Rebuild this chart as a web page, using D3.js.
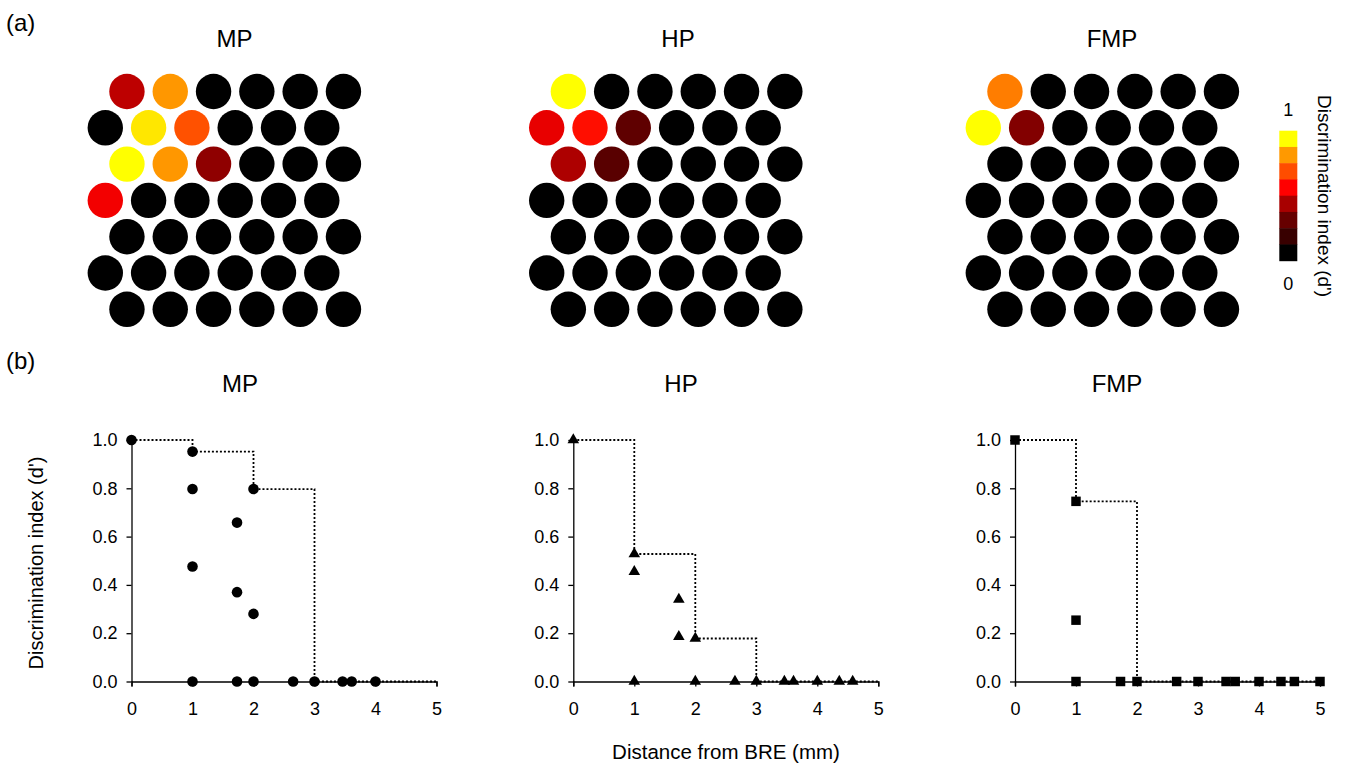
<!DOCTYPE html>
<html>
<head>
<meta charset="utf-8">
<script src="https://cdn.jsdelivr.net/npm/d3@7"></script>
<style>
  body { margin: 0; background: #fff; }
  text { font-family: "Liberation Sans", Arial, sans-serif; fill: #000; }
</style>
</head>
<body>
<div id="chart"></div>
<script>
'use strict';

// ---- data ----
const panelNames = ["MP", "HP", "FMP"];

// d' per electrode, 7 rows x 6 columns (rows 0,2,4,6 are shifted right by half a pitch)
const mpGrid = [
  [0.37, 0.797, 0, 0, 0, 0],
  [0, 0.952, 0.658, 0, 0, 0],
  [1.0, 0.797, 0.28, 0, 0, 0],
  [0.476, 0, 0, 0, 0, 0],
  [0, 0, 0, 0, 0, 0],
  [0, 0, 0, 0, 0, 0],
  [0, 0, 0, 0, 0, 0]
];
const hpGrid = [
  [1.0, 0, 0, 0, 0, 0],
  [0.455, 0.528, 0.186, 0, 0, 0],
  [0.34, 0.175, 0, 0, 0, 0],
  [0, 0, 0, 0, 0, 0],
  [0, 0, 0, 0, 0, 0],
  [0, 0, 0, 0, 0, 0],
  [0, 0, 0, 0, 0, 0]
];
const fmpGrid = [
  [0.746, 0, 0, 0, 0, 0],
  [1.0, 0.254, 0, 0, 0, 0],
  [0, 0, 0, 0, 0, 0],
  [0, 0, 0, 0, 0, 0],
  [0, 0, 0, 0, 0, 0],
  [0, 0, 0, 0, 0, 0],
  [0, 0, 0, 0, 0, 0]
];

// distance from BRE (mm) vs d'
const mpDist = [0, 1, 1, 1, 1, 1.73, 1.73, 1.73, 2, 2, 2, 2.65, 3, 3.46, 3.61, 4];
const mpDp   = [1, 0.952, 0.797, 0.476, 0, 0.658, 0.37, 0, 0.797, 0.28, 0, 0, 0, 0, 0, 0];
const hpDist = [0, 1, 1, 1, 1.73, 1.73, 2, 2, 2.65, 3, 3.46, 3.61, 4, 4.36, 4.58];
const hpDp   = [1, 0.528, 0.455, 0, 0.34, 0.186, 0.178, 0, 0, 0, 0, 0, 0, 0, 0];
const fmpDist = [0, 1, 1, 1, 1.73, 2, 2.65, 3, 3.46, 3.61, 4, 4.36, 4.58, 5];
const fmpDp   = [1, 0.746, 0.254, 0, 0, 0, 0, 0, 0, 0, 0, 0, 0, 0];

// dotted envelope (max d' per ring)
const mpStepX = [0, 1, 2, 3, 5];
const mpStepY = [1, 0.952, 0.797, 0, 0];
const hpStepX = [0, 1, 2, 3, 5];
const hpStepY = [1, 0.528, 0.178, 0, 0];
const fmpStepX = [0, 1, 2, 5];
const fmpStepY = [1, 0.746, 0, 0];

const colorbarSteps = [1, 0.8, 0.65, 0.5, 0.33, 0.2, 0.11, 0];
const xTicks = [0, 1, 2, 3, 4, 5];
const yTicks = [0, 0.2, 0.4, 0.6, 0.8, 1.0];

// ---- layout ----
const W = 1346, H = 766;
const svg = d3.select("#chart").append("svg")
  .attr("width", W).attr("height", H);

const color = d3.scaleLinear()
  .domain([0, 0.5, 1])
  .range(["#000000", "#ff0000", "#ffff00"]);

const pitch = 43.3, rowStep = 36.3, radius = 17.7;
const gridLeft = [105.3, 546.7, 983.3];
const gridTop = 91.5;
const grids = [mpGrid, hpGrid, fmpGrid];

// panel labels
svg.append("text").attr("x", 6).attr("y", 31).style("font-size", "24px").text("(a)");
svg.append("text").attr("x", 6).attr("y", 369).style("font-size", "24px").text("(b)");

// ---- (a) electrode maps ----
const topTitleX = [234.5, 678, 1112];
grids.forEach(function(grid, p) {
  const g = svg.append("g");
  const col = d3.scaleLinear().domain([0, 5]).range([gridLeft[p], gridLeft[p] + 5 * pitch]);
  const row = d3.scaleLinear().domain([0, 6]).range([gridTop, gridTop + 6 * rowStep]);

  let cells = [];
  grid.forEach(function(r, i) {
    r.forEach(function(v, j) { cells.push({ r: i, c: j, v: v }); });
  });

  g.selectAll("circle")
    .data(cells)
    .enter()
    .append("circle")
    .attr("cx", function(d) { return col(d.c + (d.r % 2 === 0 ? 0.5 : 0)); })
    .attr("cy", function(d) { return row(d.r); })
    .attr("r", radius)
    .style("fill", function(d) { return color(d.v); });

  svg.append("text")
    .attr("x", topTitleX[p]).attr("y", 47)
    .attr("text-anchor", "middle")
    .style("font-size", "24px")
    .text(panelNames[p]);
});

// colour bar
const cbX = 1279.3, cbW = 18, cbTop = 130.7, cbH = 130;
const cbScale = d3.scaleBand().domain(d3.range(colorbarSteps.length)).range([cbTop, cbTop + cbH]);
svg.append("g").selectAll("rect")
  .data(colorbarSteps)
  .enter()
  .append("rect")
  .attr("x", cbX)
  .attr("y", function(d, i) { return cbScale(i); })
  .attr("width", cbW)
  .attr("height", cbScale.bandwidth() + 0.5)
  .style("fill", function(d) { return color(d); });
svg.append("text").attr("x", cbX + cbW / 2).attr("y", 116)
  .attr("text-anchor", "middle").style("font-size", "18px").text("1");
svg.append("text").attr("x", cbX + cbW / 2).attr("y", 290)
  .attr("text-anchor", "middle").style("font-size", "18px").text("0");
svg.append("text")
  .attr("transform", "translate(1318,196) rotate(90)")
  .attr("text-anchor", "middle")
  .style("font-size", "19px")
  .text("Discrimination index (d')");

// ---- (b) d' vs distance ----
const plotLeft = [131.5, 573.3, 1015];
const plotW = 305, plotTop = 440, plotBottom = 681.5;
const botTitleX = [240, 681, 1117];
const dists = [mpDist, hpDist, fmpDist];
const dps = [mpDp, hpDp, fmpDp];
const stepXs = [mpStepX, hpStepX, fmpStepX];
const stepYs = [mpStepY, hpStepY, fmpStepY];
const symbols = [
  d3.symbol().type(d3.symbolCircle).size(88),
  d3.symbol().type(d3.symbolTriangle).size(58),
  d3.symbol().type(d3.symbolSquare).size(90)
];

panelNames.forEach(function(name, p) {
  const x = d3.scaleLinear().domain([0, 5]).range([plotLeft[p], plotLeft[p] + plotW]);
  const y = d3.scaleLinear().domain([0, 1]).range([plotBottom, plotTop]);
  const g = svg.append("g");

  g.append("g")
    .attr("transform", "translate(0," + plotBottom + ")")
    .call(d3.axisBottom(x).tickValues(xTicks).tickSize(5).tickSizeOuter(5).tickPadding(16)
      .tickFormat(d3.format("d")))
    .call(function(a) {
      a.selectAll("text").style("font-size", "18px").style("font-family", null);
      a.selectAll("path, line").style("stroke", "#000").style("stroke-width", 1.3);
    });

  g.append("g")
    .attr("transform", "translate(" + plotLeft[p] + ",0)")
    .call(d3.axisLeft(y).tickValues(yTicks).tickSize(5).tickSizeOuter(0).tickPadding(9)
      .tickFormat(d3.format(".1f")))
    .call(function(a) {
      a.selectAll("text").style("font-size", "18px").style("font-family", null);
      a.selectAll("path, line").style("stroke", "#000").style("stroke-width", 1.3);
    });

  const steps = stepXs[p].map(function(d, i) { return [d, stepYs[p][i]]; });
  g.append("path")
    .datum(steps)
    .attr("d", d3.line()
      .x(function(d) { return x(d[0]); })
      .y(function(d) { return y(d[1]); })
      .curve(d3.curveStepAfter))
    .style("fill", "none")
    .style("stroke", "#000")
    .style("stroke-width", 1.8)
    .style("stroke-dasharray", "2,2");

  const pts = dists[p].map(function(d, i) { return { d: d, v: dps[p][i] }; });
  g.selectAll(".pt")
    .data(pts)
    .enter()
    .append("path")
    .attr("class", "pt")
    .attr("transform", function(d) { return "translate(" + x(d.d) + "," + y(d.v) + ")"; })
    .attr("d", symbols[p])
    .style("fill", "#000");

  svg.append("text")
    .attr("x", botTitleX[p]).attr("y", 392)
    .attr("text-anchor", "middle")
    .style("font-size", "24px")
    .text(name);
});

svg.append("text")
  .attr("transform", "translate(43,563) rotate(-90)")
  .attr("text-anchor", "middle")
  .style("font-size", "20px")
  .text("Discrimination index (d')");

svg.append("text")
  .attr("x", 726).attr("y", 759)
  .attr("text-anchor", "middle")
  .style("font-size", "20.5px")
  .text("Distance from BRE (mm)");
</script>
</body>
</html>
